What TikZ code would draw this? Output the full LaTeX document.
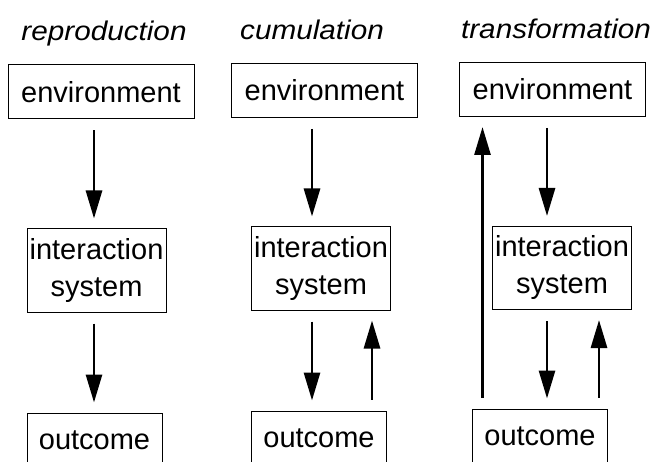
\documentclass[tikz,border=0pt]{standalone}
\usepackage{fontspec}
\setmainfont{Liberation Sans}
\newfontfamily\headfont{Liberation Sans}[FakeStretch=1.1]
\usetikzlibrary{arrows.meta}

\begin{document}
\begin{tikzpicture}[
    x=1pt, y=-1pt,
    title/.style={font=\headfont\itshape\fontsize{27}{32}\selectfont, anchor=base, inner sep=0pt},
    box/.style={rectangle, draw, line width=1pt, inner sep=0pt, text centered, font=\fontsize{29}{37}\selectfont},
    envbox/.style={box, minimum width=186pt, minimum height=54pt},
    sysbox/.style={box, minimum width=139pt, minimum height=83pt, align=center},
    outbox/.style={box, minimum width=135pt, minimum height=54pt},
    arrow/.style={line width=2.8pt, -{Triangle[length=28pt, width=16pt]}, shorten <=11pt, shorten >=10pt}
]
\useasboundingbox (0,0) rectangle (658,462);
\clip (0,0) rectangle (658,462);

\node[title] (repro) at (104, 41) {reproduction};
\node[title] (cumul) at (312, 40) {cumulation};
\node[title] (trans) at (556, 38.5) {transformation};

\node[envbox] (env1) at (101, 92) {environment};
\node[sysbox] (sys1) at (96.5, 270.5) {interaction\\system};
\node[outbox] (out1) at (94.5, 440) {outcome};

\node[envbox] (env2) at (324.5, 90.5) {environment};
\node[sysbox] (sys2) at (321, 268.5) {interaction\\system};
\node[outbox] (out2) at (319, 438) {outcome};

\node[envbox] (env3) at (552.5, 89.5) {environment};
\node[sysbox] (sys3) at (562, 268) {interaction\\system};
\node[outbox] (out3) at (540, 436) {outcome};

\draw[arrow] ([xshift=-7pt]env1.south) -- ([xshift=-7pt]env1.south |- sys1.north);
\draw[arrow] ([xshift=-2.5pt]sys1.south) -- ([xshift=-2.5pt]sys1.south |- out1.north);

\draw[arrow] ([xshift=-12.5pt]env2.south) -- ([xshift=-12.5pt]env2.south |- sys2.north);
\draw[arrow] ([xshift=-9pt]sys2.south) -- ([xshift=-9pt]sys2.south |- out2.north);
\draw[arrow] ([xshift=53pt]out2.north) -- ([xshift=53pt]out2.north |- sys2.south);

\draw[arrow] ([xshift=-5.5pt]env3.south) -- ([xshift=-5.5pt]env3.south |- sys3.north);
\draw[arrow] ([xshift=-15pt]sys3.south) -- ([xshift=-15pt]sys3.south |- out3.north);
\draw[arrow] ([xshift=59pt]out3.north) -- ([xshift=59pt]out3.north |- sys3.south);
\draw[arrow] ([xshift=-57.5pt]out3.north) -- ([xshift=-57.5pt]out3.north |- env3.south);

\end{tikzpicture}
\end{document}
